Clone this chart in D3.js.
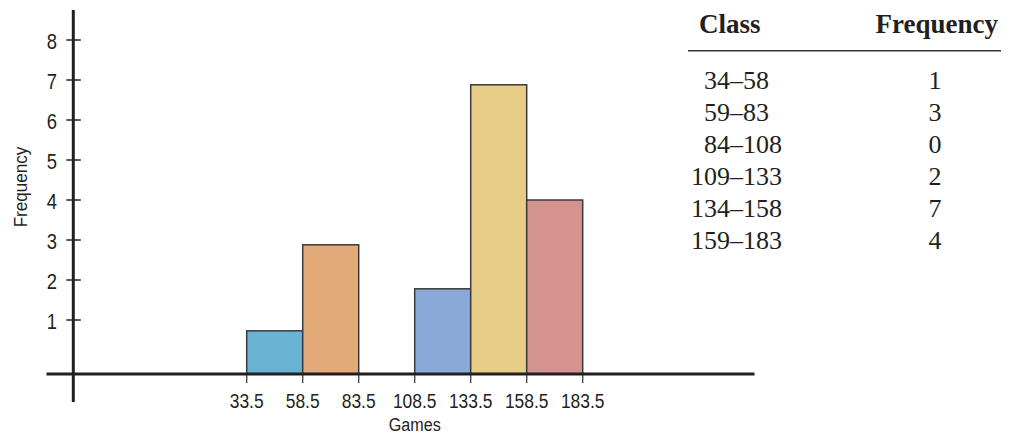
<!DOCTYPE html>
<html>
<head>
<meta charset="utf-8">
<script src="https://cdn.jsdelivr.net/npm/d3@7"></script>
<style>
  html, body { margin: 0; padding: 0; background: #fff; }
  svg { display: block; }
</style>
</head>
<body>
<svg id="chart" width="1011" height="434"></svg>
<script>
// ---- data ----
const binEdges = [33.5, 58.5, 83.5, 108.5, 133.5, 158.5, 183.5];
const binLabels = ["33.5", "58.5", "83.5", "108.5", "133.5", "158.5", "183.5"];
// bar heights as drawn in the picture
const barValues = [0.73, 2.88, 0, 1.78, 6.88, 4.0];
const barColors = ["#69b3d4", "#e3aa79", "none", "#8aa9d8", "#e7cd86", "#d4938f"];
const yTicks = [1, 2, 3, 4, 5, 6, 7, 8];
const classLabels = ["34–58", "59–83", "84–108", "109–133", "134–158", "159–183"];
const frequencies = [1, 3, 0, 2, 7, 4];

const ink = "#231f20";
const sans = "'Liberation Sans', Arial, sans-serif";
const serif = "'Liberation Serif', 'Times New Roman', serif";
const svg = d3.select("#chart");

const x = d3.scaleLinear().domain([33.5, 183.5]).range([246.7, 582.7]);
const y = d3.scaleLinear().domain([0, 8]).range([360, 40]);
const baseVal = -0.35;           // where the drawn x-axis line sits
const baseY = y(baseVal);
const yAxisX = 73.3;
const squeeze = 0.83;

// bars
const bins = barValues.map((v, i) => ({ x0: binEdges[i], x1: binEdges[i + 1], v, c: barColors[i] }))
  .filter(d => d.v > 0);
svg.append("g").selectAll("rect").data(bins).join("rect")
  .attr("x", d => x(d.x0))
  .attr("y", d => y(d.v))
  .attr("width", d => x(d.x1) - x(d.x0))
  .attr("height", d => baseY - y(d.v))
  .attr("fill", d => d.c)
  .attr("stroke", "#3a3a3a")
  .attr("stroke-width", 1.5);

// x ticks
const xg = svg.append("g");
xg.selectAll("line").data(binEdges).join("line")
  .attr("x1", d => x(d)).attr("x2", d => x(d))
  .attr("y1", baseY - 2).attr("y2", baseY + 9)
  .attr("stroke", "#555").attr("stroke-width", 1.5);
xg.selectAll("text").data(binEdges).join("text")
  .attr("transform", d => `translate(${x(d)},408) scale(${squeeze},1)`)
  .attr("text-anchor", "middle")
  .attr("font-family", sans)
  .attr("font-size", 21)
  .attr("fill", ink)
  .text((d, i) => binLabels[i]);

// axis lines
svg.append("line").attr("x1", 46.5).attr("x2", 754.5).attr("y1", baseY).attr("y2", baseY)
  .attr("stroke", ink).attr("stroke-width", 3);
svg.append("line").attr("x1", yAxisX).attr("x2", yAxisX).attr("y1", 10).attr("y2", 402)
  .attr("stroke", ink).attr("stroke-width", 3);

// y ticks
const yg = svg.append("g");
yg.selectAll("line").data(yTicks).join("line")
  .attr("x1", yAxisX - 7).attr("x2", yAxisX + 7.5)
  .attr("y1", d => y(d)).attr("y2", d => y(d))
  .attr("stroke", ink).attr("stroke-width", 1.5);
yg.selectAll("text").data(yTicks).join("text")
  .attr("transform", d => `translate(57,${y(d) + 8.8}) scale(0.82,1)`)
  .attr("text-anchor", "end")
  .attr("font-family", sans)
  .attr("font-size", 22.5)
  .attr("fill", ink)
  .text(d => d);

// axis titles
svg.append("text")
  .attr("transform", `translate(27,187) rotate(-90) scale(0.9,1)`)
  .attr("text-anchor", "middle")
  .attr("font-family", sans)
  .attr("font-size", 19)
  .attr("fill", ink)
  .text("Frequency");
svg.append("text")
  .attr("transform", `translate(${x(108.5)},431) scale(0.85,1)`)
  .attr("text-anchor", "middle")
  .attr("font-family", sans)
  .attr("font-size", 19)
  .attr("fill", ink)
  .text("Games");

// frequency table
svg.append("text").attr("x", 699).attr("y", 33)
  .attr("font-family", serif).attr("font-size", 27).attr("font-weight", "bold")
  .attr("fill", ink).text("Class");
svg.append("text").attr("x", 998).attr("y", 33).attr("text-anchor", "end")
  .attr("font-family", serif).attr("font-size", 27).attr("font-weight", "bold")
  .attr("fill", ink).text("Frequency");
svg.append("line").attr("x1", 688).attr("x2", 1001).attr("y1", 50.7).attr("y2", 50.7)
  .attr("stroke", "#333").attr("stroke-width", 1.5);

const rowY = i => 89 + i * 32;
const dashX = 730;
const rows = svg.append("g").attr("font-family", serif).attr("font-size", 26).attr("fill", ink);
classLabels.forEach((lab, i) => {
  const parts = lab.split("–");
  rows.append("text").attr("x", dashX).attr("y", rowY(i)).attr("text-anchor", "end").text(parts[0]);
  rows.append("text").attr("x", dashX).attr("y", rowY(i)).attr("text-anchor", "start").text("–" + parts[1]);
  rows.append("text").attr("x", 935).attr("y", rowY(i)).attr("text-anchor", "middle").text(frequencies[i]);
});
</script>
</body>
</html>
